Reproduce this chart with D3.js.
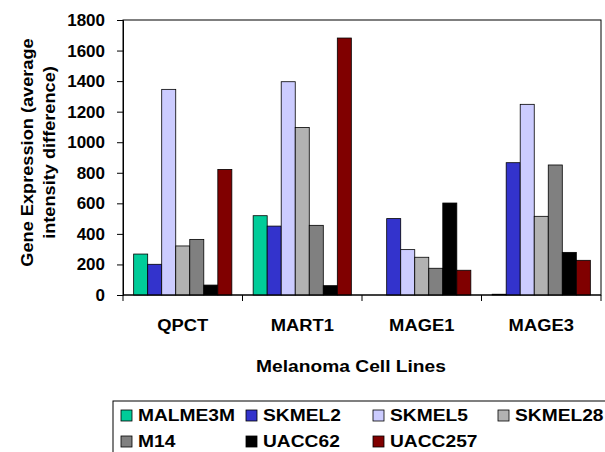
<!DOCTYPE html>
<html>
<head>
<meta charset="utf-8">
<script src="https://cdn.jsdelivr.net/npm/d3@7"></script>
<style>
  body { margin: 0; background: #fff; }
  text { font-family: "Liberation Sans", Arial, sans-serif; font-weight: bold; }
</style>
</head>
<body>
<svg id="chart"></svg>
<script>
// genes on the x axis
const genes = ["QPCT", "MART1", "MAGE1", "MAGE3"];
// cell lines (series)
const cellLines = ["MALME3M", "SKMEL2", "SKMEL5", "SKMEL28", "M14", "UACC62", "UACC257"];
const colors = ["#00cc99", "#3333cc", "#ccccff", "#b2b2b2", "#808080", "#000000", "#800000"];
// values per cell line, in gene order
const MALME3M = [268, 519, 0, 5];
const SKMEL2  = [201, 451, 500, 866];
const SKMEL5  = [1346, 1396, 297, 1248];
const SKMEL28 = [321, 1097, 247, 515];
const M14     = [364, 456, 175, 851];
const UACC62  = [65, 61, 602, 279];
const UACC257 = [822, 1682, 162, 227];
const yTicks = [0, 200, 400, 600, 800, 1000, 1200, 1400, 1600, 1800];

const seriesValues = [MALME3M, SKMEL2, SKMEL5, SKMEL28, M14, UACC62, UACC257];

const width = 605, height = 452;
const plotL = 123, plotR = 601, plotT = 20, plotB = 295;

const svg = d3.select("#chart")
  .attr("width", width)
  .attr("height", height);

const x0 = d3.scaleBand().domain(genes).range([plotL, plotR]).padding(0);
const x1 = d3.scaleBand().domain(cellLines).range([0, x0.bandwidth()])
  .paddingInner(0).paddingOuter(0.76);
const y = d3.scaleLinear().domain([0, 1800]).range([plotB, plotT]);

// plot frame
svg.append("rect")
  .attr("x", plotL).attr("y", plotT)
  .attr("width", plotR - plotL).attr("height", plotB - plotT)
  .attr("fill", "none").attr("stroke", "#000").attr("stroke-width", 1);

// bars
const rows = [];
cellLines.forEach((c, i) => {
  genes.forEach((g, j) => {
    rows.push({gene: g, line: c, value: seriesValues[i][j], color: colors[i]});
  });
});

svg.append("g")
  .selectAll("rect")
  .data(rows.filter(d => d.value > 0))
  .join("rect")
  .attr("x", d => x0(d.gene) + x1(d.line))
  .attr("y", d => y(d.value))
  .attr("width", x1.bandwidth())
  .attr("height", d => y(0) - y(d.value))
  .attr("fill", d => d.color)
  .attr("stroke", "#000")
  .attr("stroke-width", 0.8);

// y axis
const yAxis = svg.append("g")
  .attr("transform", `translate(${plotL},0)`)
  .call(d3.axisLeft(y).tickValues(yTicks).tickFormat(d3.format("d")).tickSize(6).tickPadding(12));
yAxis.select(".domain").attr("stroke", "#000");
yAxis.selectAll("text").attr("font-size", 17).attr("fill", "#000")
  .style("font-family", "'Liberation Sans', Arial, sans-serif").style("font-weight", "bold");

// x axis with ticks at category boundaries
const xAxisG = svg.append("g").attr("transform", `translate(0,${plotB})`);
xAxisG.append("line").attr("x1", plotL).attr("x2", plotR).attr("stroke", "#000");
xAxisG.selectAll("line.tk")
  .data(genes.map(g => x0(g)).concat([plotR]))
  .join("line")
  .attr("class", "tk")
  .attr("x1", d => d).attr("x2", d => d)
  .attr("y1", 0).attr("y2", 6)
  .attr("stroke", "#000");
xAxisG.selectAll("text")
  .data(genes)
  .join("text")
  .attr("transform", d => `translate(${x0(d) + x0.bandwidth() / 2},36) scale(1.08,1)`)
  .attr("text-anchor", "middle")
  .attr("font-size", 17)
  .text(d => d);

// axis titles
svg.append("text")
  .attr("transform", "translate(351,372) scale(1.13,1)")
  .attr("text-anchor", "middle")
  .attr("font-size", 17)
  .text("Melanoma Cell Lines");

const yTitle = svg.append("text")
  .attr("transform", `translate(33,${(plotT + plotB) / 2 - 5}) rotate(-90) scale(1.07,1)`)
  .attr("text-anchor", "middle")
  .attr("font-size", 17);
yTitle.append("tspan").attr("x", 0).attr("dy", 0).text("Gene Expression (average");
yTitle.append("tspan").attr("x", 0).attr("dy", 22).text("intensity difference)");

// legend
const legendCols = [121, 246, 373, 498];
const legendRows = [421, 447];
svg.append("rect")
  .attr("x", 113).attr("y", 401)
  .attr("width", 500).attr("height", 60)
  .attr("fill", "none").attr("stroke", "#000").attr("stroke-width", 1);

const leg = svg.append("g")
  .selectAll("g")
  .data(cellLines)
  .join("g")
  .attr("transform", (d, i) => `translate(${legendCols[i % 4]},${legendRows[Math.floor(i / 4)]})`);
leg.append("rect")
  .attr("x", 0).attr("y", -11)
  .attr("width", 11).attr("height", 11)
  .attr("fill", (d, i) => colors[i])
  .attr("stroke", "#000").attr("stroke-width", 0.8);
leg.append("text")
  .attr("transform", "translate(17,0) scale(1.13,1)")
  .attr("font-size", 17)
  .text(d => d);
</script>
</body>
</html>
